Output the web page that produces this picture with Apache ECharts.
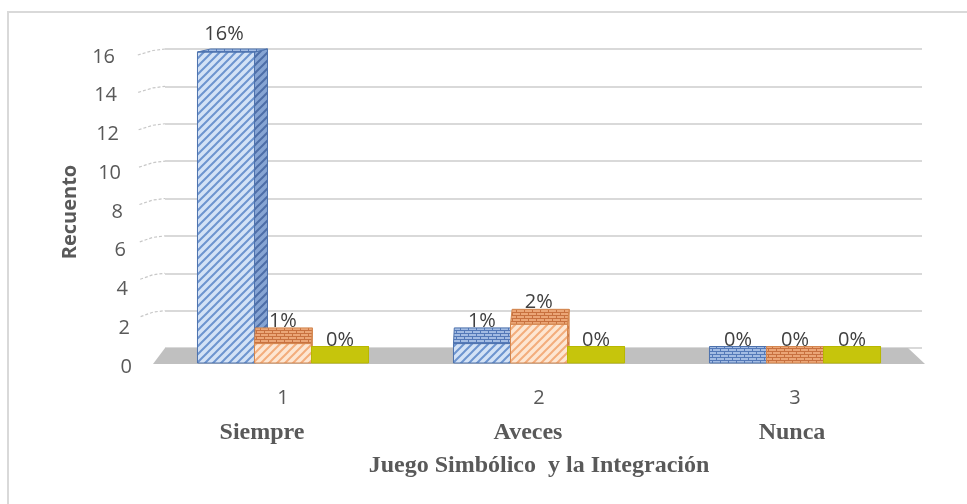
<!DOCTYPE html>
<html>
<head>
<meta charset="utf-8">
<script src="https://cdn.jsdelivr.net/npm/echarts@6/dist/echarts.min.js"></script>
<style>
html,body{margin:0;padding:0;background:#fff;}
#chart{width:967px;height:504px;}
</style>
</head>
<body>
<div id="chart"></div>
<script>
// ---- data ----
const categories = ['1', '2', '3'];
const categoryNames = ['Siempre', 'Aveces', 'Nunca'];
const seriesBlue = [16, 1, 0];
const seriesOrange = [1, 2, 0];
const seriesYellow = [0, 0, 0];
const yMin = 0, yMax = 16, yInterval = 2;
const yTickValues = [0, 2, 4, 6, 8, 10, 12, 14, 16];
const yAxisTitle = 'Recuento';
const xAxisTitle = 'Juego Simbólico  y la Integración';

// ---- patterns ----
function stripes(bg, fg, size, lw) {
  const c = document.createElement('canvas');
  c.width = c.height = size;
  const g = c.getContext('2d');
  g.fillStyle = bg; g.fillRect(0, 0, size, size);
  g.strokeStyle = fg; g.lineWidth = lw;
  g.beginPath();
  g.moveTo(0, size); g.lineTo(size, 0);
  g.moveTo(-size / 2, size / 2); g.lineTo(size / 2, -size / 2);
  g.moveTo(size / 2, size * 1.5); g.lineTo(size * 1.5, size / 2);
  g.stroke();
  return { image: c, repeat: 'repeat' };
}
function bricks(bg, fg) {
  const w = 8, h = 6;
  const c = document.createElement('canvas');
  c.width = w; c.height = h;
  const g = c.getContext('2d');
  g.fillStyle = bg; g.fillRect(0, 0, w, h);
  g.strokeStyle = fg; g.lineWidth = 1;
  g.beginPath();
  g.moveTo(0, 0.5); g.lineTo(w, 0.5);
  g.moveTo(0, 3.5); g.lineTo(w, 3.5);
  g.moveTo(0.5, 0); g.lineTo(0.5, 3);
  g.moveTo(4.5, 3); g.lineTo(4.5, 6);
  g.stroke();
  return { image: c, repeat: 'repeat' };
}

const looks = [
  { front: stripes('#d3e2f6', '#6d94cf', 8, 2), top: bricks('#a3bce3', '#5479b8'), side: stripes('#86a4d3', '#4d6ea8', 8, 2), stroke: '#4d72ad' },
  { front: stripes('#fde6d2', '#f3ad7c', 8, 2), top: bricks('#eba677', '#c8713f'), side: stripes('#e8a272', '#c8713f', 8, 2), stroke: '#d4874f' },
  { front: '#cccc00', top: '#c6c50c', side: '#abab00', stroke: '#b8b800' }
];

function makeBarRender(sIdx) {
  return function (params, api) {
    const ci = api.value(0), v = api.value(1);
    const c = api.coord([ci, v]);
    const b = api.coord([ci, 0]);
    const band = api.size([1, 0])[0];
    const slot = band * 0.2227;
    const cs = params.coordSys;
    const x0 = c[0] - 1.5 * slot + sIdx * slot;
    const x1 = x0 + slot;
    const yTop = c[1], y0 = b[1];
    const t = Math.max(0, Math.min(1, (yTop - cs.y) / cs.height));
    const dy = 3 + 13.5 * t;
    const dx = 13 * (1 - t);
    const lk = looks[sIdx];
    const children = [];
    children.push({
      type: 'polygon',
      shape: { points: [[x1, yTop], [x1 + dx, yTop - dy], [x1 + dx, y0 - dy], [x1, y0]] },
      style: { fill: lk.side, stroke: lk.stroke, lineWidth: 1 }
    });
    if (y0 - yTop > 0.5) {
      children.push({
        type: 'rect',
        shape: { x: x0, y: yTop, width: slot, height: y0 - yTop },
        style: { fill: lk.front, stroke: lk.stroke, lineWidth: 1 }
      });
    }
    children.push({
      type: 'polygon',
      shape: { points: [[x0, yTop], [x1, yTop], [x1 + dx, yTop - dy], [x0 + dx, yTop - dy]] },
      style: { fill: lk.top, stroke: lk.stroke, lineWidth: 1 }
    });
    children.push({
      type: 'text',
      style: {
        text: v + '%',
        x: x0 + slot / 2 - 2 * (1 - t),
        y: yTop - dy - 6 - 9 * (1 - t),
        align: 'center',
        verticalAlign: 'middle',
        fill: '#404040',
        font: '20px "Open Sans", sans-serif'
      }
    });
    return { type: 'group', children: children };
  };
}

function floorRender(params, api) {
  const cs = params.coordSys;
  const y0 = api.coord([0, 0])[1] + 1;
  const h = 16;
  return {
    type: 'polygon',
    shape: { points: [[cs.x - 2, y0], [cs.x + cs.width + 2, y0], [cs.x + cs.width - 15, y0 - h], [cs.x + 10, y0 - h]] },
    style: { fill: '#c0c0c0' }
  };
}

function wallTickRender(params, api) {
  const cs = params.coordSys;
  const v = api.value(1);
  const p = api.coord([0, v]);
  const startX = cs.x - 24 + 16 * (v / yMax) * -0.2;
  return {
    type: 'polyline',
    shape: { points: [[startX, p[1] + 6], [cs.x - 12, p[1] + 1.5], [cs.x, p[1]]] },
    style: { stroke: '#c8c8c8', lineWidth: 1.2, lineDash: [3, 2], fill: null }
  };
}

const allSeries = [seriesBlue, seriesOrange, seriesYellow];
const chart = echarts.init(document.getElementById('chart'));

const labelRich = {};
yTickValues.forEach(v => {
  labelRich['p' + v] = {
    color: '#595959', fontSize: 20, fontFamily: 'Open Sans',
    padding: [0, Math.round(17 * v / yMax), 0, 0]
  };
});

const series = [
  {
    type: 'custom', xAxisIndex: 0, yAxisIndex: 0, z: 1,
    renderItem: floorRender, data: [[0, 0]], silent: true
  },
  {
    type: 'custom', xAxisIndex: 1, yAxisIndex: 1, z: 1,
    renderItem: wallTickRender, data: yTickValues.slice(1).map(v => [0, v]), silent: true
  }
].concat(allSeries.map((vals, sIdx) => ({
  type: 'custom',
  xAxisIndex: 0, yAxisIndex: 0, z: 2 + sIdx,
  renderItem: makeBarRender(sIdx),
  encode: { x: 0, y: 1 },
  data: vals.map((v, i) => [i, v])
})));

const option = {
  backgroundColor: '#ffffff',
  animation: false,
  grid: [
    { left: 155, right: 44, top: 52, bottom: 141 },
    { left: 165, right: 45, top: 49, bottom: 156 },
    { left: 155, right: 44, top: 57, bottom: 137 }
  ],
  xAxis: [
    {
      type: 'category', gridIndex: 0, data: categories,
      axisLine: { show: false }, axisTick: { show: false },
      axisLabel: { margin: 25, color: '#595959', fontSize: 20, fontFamily: 'Open Sans' }
    },
    { type: 'value', gridIndex: 1, show: false, min: 0, max: 1 },
    { type: 'value', gridIndex: 2, show: false, min: 0, max: 1 }
  ],
  yAxis: [
    {
      type: 'value', gridIndex: 0, min: yMin, max: yMax, interval: yInterval,
      splitLine: { show: false }, axisLine: { show: false }, axisTick: { show: false },
      axisLabel: { show: false }
    },
    {
      type: 'value', gridIndex: 1, min: yMin, max: yMax, interval: yInterval,
      axisLine: { show: false }, axisTick: { show: false }, axisLabel: { show: false },
      splitLine: { show: true, lineStyle: { color: '#d9d9d9', width: 2 } }
    },
    {
      type: 'value', gridIndex: 2, min: yMin, max: yMax, interval: yInterval,
      splitLine: { show: false }, axisLine: { show: false }, axisTick: { show: false },
      axisLabel: {
        margin: 23,
        formatter: v => '{p' + v + '|' + v + '}',
        rich: labelRich
      },
      name: yAxisTitle, nameLocation: 'middle', nameGap: 75, nameRotate: 90,
      nameTextStyle: { color: '#595959', fontSize: 20, fontWeight: 'bold', fontFamily: 'Open Sans' }
    }
  ],
  graphic: [
    {
      type: 'rect', z: -10, silent: true,
      shape: { x: 8, y: 12, width: 980, height: 520 },
      style: { fill: 'none', stroke: '#d9d9d9', lineWidth: 2 }
    },
    ...categoryNames.map((name, i) => ({
      type: 'text', silent: true,
      x: [262, 528, 792][i], y: 433,
      style: {
        text: name, align: 'center', verticalAlign: 'middle',
        fill: '#595959', font: 'bold 24px "Liberation Serif", serif'
      }
    })),
    {
      type: 'text', silent: true, x: 539, y: 466,
      style: {
        text: xAxisTitle, align: 'center', verticalAlign: 'middle',
        fill: '#595959', font: 'bold 24px "Liberation Serif", serif'
      }
    }
  ],
  series: series
};
chart.setOption(option);
</script>
</body>
</html>
